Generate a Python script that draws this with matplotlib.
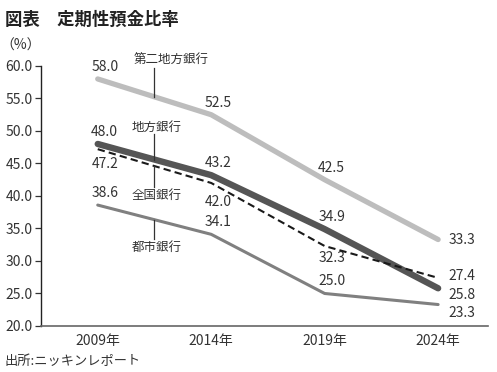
import matplotlib.pyplot as plt
import numpy as np

plt.rcParams['font.family'] = ['Noto Sans CJK JP', 'DejaVu Sans']

# Data
years = ['2009年', '2014年', '2019年', '2024年']
second_regional = [58.0, 52.5, 42.5, 33.3]   # 第二地方銀行
regional = [48.0, 43.2, 34.9, 25.8]          # 地方銀行
all_banks = [47.2, 42.0, 32.3, 27.4]         # 全国銀行
city = [38.6, 34.1, 25.0, 23.3]              # 都市銀行

x = np.arange(len(years))
txt = '#333333'

fig = plt.figure(figsize=(4.97, 3.72), dpi=100)
ax = fig.add_axes([0.0825, 0.1237, 0.8995, 0.699])

ax.plot(x, second_regional, color='#bdbdbd', lw=3.8, solid_capstyle='round', zorder=2)
ax.plot(x, city, color='#808080', lw=2.2, solid_capstyle='round', zorder=2)
ax.plot(x, regional, color='#555555', lw=4.6, solid_capstyle='round', zorder=3)
ax.plot(x, all_banks, color='#1a1a1a', lw=1.5, ls=(0, (3.5, 2)), zorder=4)

# value labels: (series, offsets in pixels per point)
def label(vals, offs):
    for xi, v, (dx, dy, ha) in zip(x, vals, offs):
        ax.annotate(f'{v:.1f}', (xi, v), xytext=(dx, dy), textcoords='offset pixels',
                    ha=ha, va='center', fontsize=10, color=txt)

up = (7, 12, 'center')
label(second_regional, [up, up, up, (10, 0, 'left')])
label(regional, [up, up, up, (10, -7, 'left')])
label(all_banks, [(7, -15, 'center'), (7, -19, 'center'), (7, -12, 'center'), (10, 2, 'left')])
label(city, [up, up, up, (10, -8, 'left')])

# series names with leader lines at the midpoint of the first segment
def series_name(vals, name, tx, ty, ly):
    mid = (vals[0] + vals[1]) / 2
    ax.plot([0.5, 0.5], [mid, ly], color='#333333', lw=0.9, zorder=5)
    ax.text(tx, ty, name, ha='center', va='center', fontsize=9, color=txt)

series_name(second_regional, '第二地方銀行', 0.645, 60.9, 59.7)
series_name(regional, '地方銀行', 0.52, 50.6, 49.5)
series_name(all_banks, '全国銀行', 0.52, 40.15, 41.4)
series_name(city, '都市銀行', 0.52, 32.15, 33.4)

ax.set_xlim(-0.5, 3.44)
ax.set_ylim(20, 60)
ax.set_yticks(np.arange(20, 60.1, 5))
ax.set_yticklabels([f'{t:.1f}' for t in np.arange(20, 60.1, 5)])
ax.set_xticks(x)
ax.set_xticklabels(years)
ax.tick_params(axis='y', length=4, width=0.9, color='#333333', labelsize=10, labelcolor=txt, pad=2)
ax.tick_params(axis='x', length=0, labelsize=10, labelcolor=txt, pad=6)
for s in ['top', 'right']:
    ax.spines[s].set_visible(False)
ax.spines['left'].set_color('#222222')
ax.spines['left'].set_linewidth(1.0)
ax.spines['bottom'].set_color('#666666')
ax.spines['bottom'].set_linewidth(1.2)

fig.text(0.01, 0.946, '図表　定期性預金比率', fontsize=12.5, fontweight='bold', color='#222222', va='center')
fig.text(0.0, 0.877, '（%）', fontsize=10, color=txt, va='center')
fig.text(0.01, 0.027, '出所:ニッキンレポート', fontsize=9.5, color=txt, va='center')

fig.savefig('out.png', dpi=100)
